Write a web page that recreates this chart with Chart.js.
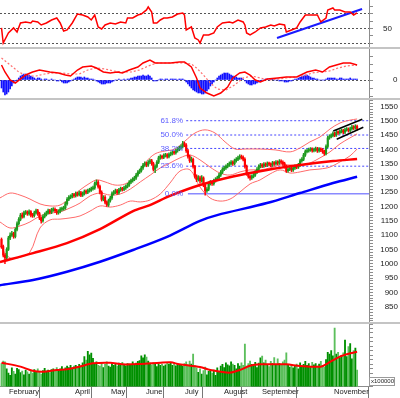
<!DOCTYPE html>
<html>
<head>
<meta charset="utf-8">
<script src="https://cdn.jsdelivr.net/npm/chart.js@4.4.1/dist/chart.umd.min.js"></script>
<style>
  html, body { margin: 0; padding: 0; background: #fff; }
  #wrap { position: relative; width: 400px; height: 398px; overflow: hidden; }
  #wrap canvas { position: absolute; left: 0; }
  .sep { position: absolute; left: 0; width: 400px; height: 2px; background: #c4c4c4; }
</style>
</head>
<body>
<div id="wrap">
  <canvas id="rsiChart" width="400" height="47" style="top:0"></canvas>
  <div class="sep" style="top:47px"></div>
  <canvas id="macdChart" width="400" height="49" style="top:49px"></canvas>
  <div class="sep" style="top:98px"></div>
  <canvas id="priceChart" width="400" height="222" style="top:100px"></canvas>
  <div class="sep" style="top:322px"></div>
  <canvas id="volChart" width="400" height="74" style="top:324px"></canvas>
</div>
<script>
// daily bars, index 0 = first session shown (late January)
const opens = [
  1085,1060,1030,1020,1050,1090,1100,1105,1095,1120,
  1140,1155,1170,1165,1178,1180,1175,1182,1170,1168,
  1178,1185,1175,1160,1150,1165,1172,1178,1185,1180,
  1188,1190,1185,1178,1183,1190,1192,1195,1210,1225,
  1232,1235,1240,1238,1245,1242,1248,1240,1245,1252,
  1250,1255,1258,1262,1265,1280,1285,1270,1250,1225,
  1232,1215,1205,1220,1230,1245,1250,1255,1248,1258,
  1262,1260,1265,1270,1275,1285,1290,1295,1300,1310,
  1320,1325,1335,1345,1350,1345,1355,1360,1350,1330,
  1340,1355,1370,1375,1372,1378,1380,1375,1382,1385,
  1390,1388,1395,1400,1405,1410,1420,1415,1395,1375,
  1360,1365,1340,1305,1295,1300,1290,1300,1275,1255,
  1260,1280,1285,1280,1290,1295,1300,1310,1320,1330,
  1335,1340,1345,1350,1355,1350,1360,1365,1370,1375,
  1372,1365,1340,1315,1305,1300,1305,1310,1320,1330,
  1340,1345,1342,1348,1345,1350,1348,1345,1352,1350,
  1355,1352,1358,1355,1350,1340,1325,1330,1335,1328,
  1335,1340,1338,1345,1360,1365,1380,1392,1395,1398,
  1400,1396,1398,1402,1395,1400,1398,1392,1385,1410,
  1440,1445,1448,1455,1450,1460,1458,1462,1465,1460,
  1468,1470,1466,1472,1478,1475,1480
];
const highs = [
  1090,1065,1035,1056,1096,1108,1113,1110,1125,1146,
  1161,1176,1178,1184,1186,1185,1188,1186,1176,1184,
  1191,1190,1180,1164,1171,1178,1184,1191,1190,1194,
  1196,1195,1190,1189,1196,1198,1201,1216,1231,1238,
  1241,1246,1246,1251,1250,1254,1253,1251,1258,1258,
  1261,1264,1268,1271,1286,1293,1291,1275,1255,1238,
  1238,1220,1226,1236,1251,1256,1261,1260,1264,1268,
  1267,1271,1276,1281,1291,1296,1301,1306,1316,1326,
  1331,1341,1351,1356,1355,1361,1366,1365,1355,1346,
  1361,1376,1381,1380,1384,1386,1385,1388,1391,1396,
  1395,1401,1406,1411,1416,1428,1425,1420,1400,1380,
  1373,1369,1344,1311,1308,1306,1308,1304,1280,1266,
  1286,1291,1290,1296,1301,1306,1316,1326,1336,1341,
  1346,1351,1356,1361,1360,1366,1371,1376,1381,1380,
  1377,1370,1345,1320,1311,1311,1316,1326,1336,1346,
  1351,1350,1354,1353,1356,1355,1353,1358,1357,1361,
  1360,1364,1363,1360,1355,1345,1336,1341,1340,1341,
  1346,1345,1351,1366,1371,1386,1398,1401,1404,1406,
  1405,1404,1408,1407,1406,1405,1403,1397,1416,1446,
  1451,1454,1461,1460,1466,1465,1468,1471,1470,1474,
  1476,1475,1478,1484,1483,1486,1485
];
const lows = [
  1054,1024,1000,1014,1046,1084,1095,1089,1090,1115,
  1135,1150,1159,1160,1172,1169,1170,1164,1162,1163,
  1173,1169,1154,1142,1145,1160,1167,1173,1174,1175,
  1183,1179,1172,1173,1178,1185,1187,1190,1205,1220,
  1227,1230,1232,1233,1236,1237,1234,1235,1240,1244,
  1245,1250,1253,1257,1260,1275,1264,1244,1219,1220,
  1209,1200,1200,1215,1225,1240,1245,1242,1243,1253,
  1254,1255,1260,1265,1270,1280,1285,1290,1295,1305,
  1315,1320,1330,1340,1339,1340,1350,1344,1324,1318,
  1335,1350,1365,1366,1367,1373,1369,1370,1377,1380,
  1382,1383,1390,1395,1400,1405,1409,1389,1369,1354,
  1355,1334,1299,1287,1289,1282,1285,1269,1240,1249,
  1255,1275,1274,1275,1285,1290,1295,1305,1315,1325,
  1330,1335,1340,1345,1344,1345,1355,1360,1365,1366,
  1359,1334,1309,1299,1292,1295,1300,1305,1315,1325,
  1335,1336,1337,1339,1340,1342,1339,1340,1344,1345,
  1346,1347,1349,1344,1334,1319,1320,1325,1322,1323,
  1330,1332,1333,1340,1355,1360,1375,1387,1390,1393,
  1390,1391,1393,1389,1390,1392,1386,1379,1380,1405,
  1435,1440,1443,1444,1445,1452,1453,1457,1454,1455,
  1463,1460,1461,1467,1469,1470,1467
];
const closes = [
  1060,1030,1020,1050,1090,1100,1105,1095,1120,1140,
  1155,1170,1165,1178,1180,1175,1182,1170,1168,1178,
  1185,1175,1160,1150,1165,1172,1178,1185,1180,1188,
  1190,1185,1178,1183,1190,1192,1195,1210,1225,1232,
  1235,1240,1238,1245,1242,1248,1240,1245,1252,1250,
  1255,1258,1262,1265,1280,1285,1270,1250,1225,1232,
  1215,1205,1220,1230,1245,1250,1255,1248,1258,1262,
  1260,1265,1270,1275,1285,1290,1295,1300,1310,1320,
  1325,1335,1345,1350,1345,1355,1360,1350,1330,1340,
  1355,1370,1375,1372,1378,1380,1375,1382,1385,1390,
  1388,1395,1400,1405,1410,1420,1415,1395,1375,1360,
  1365,1340,1305,1295,1300,1290,1300,1275,1255,1260,
  1280,1285,1280,1290,1295,1300,1310,1320,1330,1335,
  1340,1345,1350,1355,1350,1360,1365,1370,1375,1372,
  1365,1340,1315,1305,1300,1305,1310,1320,1330,1340,
  1345,1342,1348,1345,1350,1348,1345,1352,1350,1355,
  1352,1358,1355,1350,1340,1325,1330,1335,1328,1335,
  1340,1338,1345,1360,1365,1380,1392,1395,1398,1400,
  1396,1398,1402,1395,1400,1398,1392,1385,1410,1440,
  1445,1448,1455,1450,1460,1458,1462,1465,1460,1468,
  1470,1466,1472,1478,1475,1480,1473
];
// volume, x100000
const volumes = [
  7400,8000,7800,6200,5200,4700,6400,5600,5000,6300,
  6000,5300,5700,4800,5900,5500,5000,5800,5200,6000,
  5600,6200,5400,5000,5800,6300,5700,5900,5300,6000,
  6200,5800,6500,6000,6200,6700,6100,6400,6800,6500,
  7000,6400,6800,7000,6600,7200,6900,7600,9000,8200,
  10200,9400,9800,8600,7400,7800,7000,6800,7600,6500,
  7200,7800,6800,6600,7400,7000,7300,6800,7500,7100,
  7700,7200,6900,7400,7300,7000,7800,7200,7500,7900,
  8100,9200,8700,9400,8900,8000,7500,7100,7600,7300,
  6700,7400,7000,7200,6800,7100,7600,7300,7700,7000,
  7500,6900,7300,7000,7200,6800,7400,7800,7100,8000,
  7300,9600,6900,6400,5400,6200,5000,5800,6600,4800,
  5600,6100,5200,5900,4700,6400,5600,6800,7200,6500,
  7600,7100,6900,7800,7300,7000,6200,7400,6800,7600,
  7000,11900,6800,7400,8000,7200,6900,7700,6500,7500,
  8700,9100,7600,8200,7000,6700,7900,7400,8800,7100,
  8500,7400,7000,7800,8200,9900,7200,6600,7100,6400,
  6900,7300,6200,7600,6800,7200,7900,7000,7400,6600,
  7700,7100,7400,6800,7300,7900,7000,6600,8300,10000,
  9600,10400,9200,15600,9600,10000,8800,9200,9900,12800,
  9000,11300,12000,8500,10400,11000,5900
];
const macdHist = [
  -8,-12,-15,-14,-12,-9,-6,-3,-1,0,
  2,4,5,6,6,5,5,4,3,2,
  1,2,2,1,0,1,1,0,0,1,
  0,0,-1,-1,0,-2,-3,-3,-3,-2,
  -1,0,1,2,3,3,3,2,3,2,
  2,1,1,1,0,-1,-2,-3,-4,-4,
  -4,-3,-3,-3,-2,-1,0,0,1,0,
  0,1,0,1,1,2,2,3,3,4,
  4,4,5,4,4,5,4,2,-1,-1,
  -1,0,1,1,0,1,1,0,1,1,
  1,1,0,1,1,1,0,-2,-4,-6,
  -8,-10,-11,-12,-13,-13,-14,-14,-13,-11,
  -9,-6,-4,-2,0,2,4,5,6,7,
  7,7,6,5,4,3,3,2,2,2,
  1,-1,-3,-4,-5,-5,-4,-4,-3,-2,
  -1,0,0,1,1,0,1,1,0,0,
  0,-1,-1,-1,-2,-2,-2,-1,-1,0,
  1,1,2,3,4,4,5,5,4,3,
  2,2,1,1,0,0,0,0,1,2,
  2,2,2,2,1,1,2,2,1,1,
  1,1,2,1,1,1,1
];

// indicator lines: [bar index, value]
const rsiLine = [
  [0,51],[1,30.4],[4,44.1],[7,50.9],[9,45.4],[11,57.7],[14,59.1],[17,57.7],[18,60.4],[21,59.1],
  [23,55],[26,57.7],[29,61.8],[32,64.5],[34,57.7],[36,46.8],[38,48.2],[41,57.7],[43,65.9],[44,70],
  [47,68.6],[50,65.9],[52,61.8],[54,68.6],[56,52.3],[58,49.5],[60,55],[63,57.7],[66,56.4],[69,59.1],
  [72,57.7],[73,64.5],[76,64.5],[79,68.6],[81,70],[84,75.5],[85,79.6],[87,72.7],[88,57.7],[90,57.7],
  [92,61.8],[94,64.5],[96,64.5],[99,65.9],[102,70],[105,71.4],[106,68.6],[107,48.2],[110,52.3],[112,37.2],
  [114,34.5],[115,30.4],[117,41.3],[120,41.3],[123,44.1],[125,52.3],[128,57.7],[132,59.1],[134,57.7],[137,61.8],
  [140,59.1],[141,55],[142,44.1],[144,41.3],[147,45.4],[150,50.9],[153,52.3],[156,55],[158,53.6],[161,56.4],
  [164,55],[165,45.4],[168,48.2],[171,50.9],[173,59.1],[176,68.6],[180,68.6],[183,68.6],[185,59.1],[188,64.5],
  [189,75.5],[192,78.2],[193,75.5],[196,75.5],[199,72.7],[202,72.7],[204,68.6],[206,71.4]
];
const rsiTrend = [[159.6,37.2],[208.9,76.8]];
const macdLine = [
  [0,15],[2,8],[5,0],[8,-3],[14,5],[18,8],[22,10],[28,8],[33,7],[37,5],[40,4],[44,10],[47,13],
  [52,14],[55,12],[59,8],[63,7],[67,8],[70,7],[74,10],[79,13],[82,17],[86,20],[89,17],[94,17],
  [98,17],[103,18],[106,18],[110,13],[113,2],[115,-8],[119,-13],[123,-16],[127,-13],[131,-7],
  [134,2],[138,7],[141,8],[144,5],[147,0],[150,-2],[154,1],[160,2],[165,3],[171,3],[177,8],
  [182,10],[186,8],[190,13],[194,15],[198,17],[202,17],[206,15]
];
const macdSignal = [
  [0,22],[5,15],[10,8],[15,4],[20,4],[25,6],[30,7],[35,7],[40,6],[45,6],[50,10],[55,12],[60,11],
  [65,9],[70,8],[75,8],[80,10],[85,14],[90,17],[95,17],[100,17],[105,17],[110,16],[113,12],[117,5],
  [121,-3],[125,-9],[130,-10],[135,-5],[140,2],[145,4],[150,2],[155,0],[160,1],[165,2],[170,3],
  [175,4],[180,7],[185,8],[190,9],[195,12],[200,14],[206,15]
];
const maRed = [
  [-0.9,1006],[18.3,1037],[37.9,1072],[57.1,1121],[76.2,1184],[86,1205],[97.6,1237],
  [115,1275],[134.1,1305],[153.8,1328],[172.9,1345],[192.1,1359],[206,1366]
];
const maBlue = [
  [-0.9,925],[18.3,943],[37.9,972],[57.1,1007],[76.2,1048],[95.9,1094],[115,1150],
  [124.9,1170],[153.8,1212],[172.9,1247],[192.1,1282],[206,1304]
];
const bbUpper = [
  [-0.9,1230],[4.9,1247],[10.7,1240],[16.5,1226],[22.3,1209],[28.1,1202],[33.9,1205],[39.7,1230],
  [45.5,1258],[51.3,1282],[55.3,1293],[60,1286],[65.8,1275],[71.6,1279],[77.3,1303],[83.1,1352],
  [88.9,1384],[94.7,1394],[100.5,1401],[106.3,1429],[112.1,1457],[117.9,1468],[123.7,1457],
  [129.5,1426],[135.3,1401],[141.1,1401],[149.8,1401],[158.5,1398],[167.2,1391],[173,1405],
  [178.7,1426],[184.5,1443],[190.3,1471],[196.1,1492],[201.9,1502],[206,1506]
];
const bbMiddle = [
  [-0.9,1146],[4.9,1125],[10.7,1132],[16.5,1146],[22.3,1167],[28.1,1177],[33.9,1181],[39.7,1195],
  [45.5,1212],[51.3,1237],[57.1,1247],[62.9,1240],[68.8,1244],[74.6,1261],[80.4,1286],[86.2,1310],
  [92,1335],[97.6,1352],[103.4,1370],[109.2,1380],[115,1363],[120.8,1338],[126.6,1317],[132.4,1310],
  [138.2,1321],[144,1328],[149.8,1328],[155.6,1335],[161.4,1345],[167.2,1345],[173,1342],
  [178.7,1352],[184.5,1370],[190.3,1391],[196.1,1419],[201.9,1440],[206,1454]
];
const bbLower = [
  [-0.9,1062],[4.9,1020],[10.7,1023],[16.5,1041],[22.3,1125],[28.1,1153],[33.9,1156],[39.7,1160],
  [45.5,1167],[51.3,1184],[57.1,1202],[62.9,1198],[68.8,1205],[74.6,1219],[80.4,1216],[86.2,1223],
  [92,1244],[97.6,1282],[103.4,1324],[109.2,1328],[115,1268],[120.8,1230],[126.6,1219],[132.4,1226],
  [138.2,1251],[144,1279],[149.8,1293],[155.6,1314],[161.4,1328],[167.2,1317],[173,1321],
  [178.7,1328],[184.5,1331],[190.3,1338],[196.1,1356],[201.9,1377],[206,1401]
];
const channelTop = [[192.2,1464],[209,1505]];
const channelBottom = [[194.2,1435],[209.6,1477]];
const volMA = [
  [0,7600],[11,6700],[18,5760],[24,5530],[32,5920],[38,6080],[45,6680],[53,7460],[63,7600],
  [70,7230],[80,7300],[92,7600],[98,7700],[103,7230],[115,6600],[121,5920],[132,5300],[138,5920],
  [144,6900],[150,7230],[157,7230],[165,7230],[173,6850],[185,6680],[189,7460],[196,9000],
  [202,9770],[206,10140]
];
const fibNames = ['0.0%', '23.6%', '38.2%', '50.0%', '61.8%'];
const fibPrices = [1245, 1341, 1403, 1450, 1500];
const fibStart = 107;      // bar index where the retracement lines begin
const fibLabelAt = 105.2;  // right edge of the level labels
const monthNames = ['February', 'April', 'May', 'June', 'July', 'August', 'September', 'November'];
const monthIdx = [3.2, 41.4, 62.3, 82.6, 105.2, 127.8, 149.8, 191.5];

const FONT = '"Liberation Sans", Arial, sans-serif';
const TEXT = '#222';
const AXIS_COLOR = '#8c8c8c';
const UP = '#1f9a1f';
const DOWN = '#ff0000';
const X_MIN = -0.87, X_MAX = 212.9;

const pts = arr => arr.map(p => ({ x: p[0], y: p[1] }));
const upDay = closes.map((c, i) => c >= opens[i]);

function hiddenX() {
  return { type: 'linear', min: X_MIN, max: X_MAX, offset: false, display: false };
}

// align: 'far' = right-aligned at the canvas edge, 'near' = left-aligned after pad
function rightAxis(min, max, step, labelFn, refFn, align, pad) {
  return {
    type: 'linear', position: 'right', min: min, max: max,
    afterFit: s => { s.width = 29; s.paddingTop = 0; s.paddingBottom = 0; },
    border: { display: true, color: AXIS_COLOR, dash: [2, 2] },
    grid: {
      drawOnChartArea: !!refFn,
      color: refFn || AXIS_COLOR,
      tickColor: AXIS_COLOR,
      tickLength: 4
    },
    ticks: {
      stepSize: step, autoSkip: false, includeBounds: false, crossAlign: align || 'far',
      padding: pad == null ? 4 : pad, color: TEXT, font: { family: FONT, size: 8 }, callback: labelFn
    }
  };
}

function baseOptions(x, y) {
  return {
    responsive: false,
    animation: false,
    events: [],
    layout: { padding: { left: 0, right: 2, top: 0, bottom: 0 } },
    plugins: { legend: { display: false }, tooltip: { enabled: false } },
    scales: { x: x, y: y }
  };
}

function lineSet(data, color, width, extra) {
  return Object.assign({
    type: 'line', data: pts(data), borderColor: color, borderWidth: width,
    pointRadius: 0, fill: false, tension: 0
  }, extra || {});
}

// RSI
new Chart(document.getElementById('rsiChart'), {
  type: 'line',
  data: {
    datasets: [
      lineSet(rsiLine, '#ff0000', 1.5),
      lineSet(rsiTrend, '#1a1aff', 2)
    ]
  },
  options: baseOptions(hiddenX(),
    rightAxis(24.9, 89.1, 10, v => (v === 50 ? '50' : ''),
      c => ([30, 50, 70].includes(c.tick.value) ? '#555' : 'rgba(0,0,0,0)'), 'near', 10))
});

// MACD
new Chart(document.getElementById('macdChart'), {
  type: 'bar',
  data: {
    datasets: [
      lineSet(macdLine, '#ff0000', 1.5, { order: 0 }),
      lineSet(macdSignal, '#ff7070', 1.2, { order: 1, borderDash: [2, 2] }),
      {
        type: 'bar', order: 2,
        data: macdHist.map((v, i) => ({ x: i, y: v })),
        backgroundColor: '#1010ff', barThickness: 1, grouped: false
      }
    ]
  },
  options: baseOptions(hiddenX(),
    rightAxis(-18, 31, 8, v => (v === 0 ? '0' : ''),
      c => (c.tick.value === 0 ? '#555' : 'rgba(0,0,0,0)'), 'near', 20))
});

// price
const fibLabelPlugin = {
  id: 'fibLabels',
  afterDatasetsDraw(chart) {
    const { ctx, scales } = chart;
    const x = scales.x.getPixelForValue(fibLabelAt);
    ctx.save();
    ctx.font = '8px ' + FONT;
    ctx.fillStyle = '#5c5cff';
    ctx.textAlign = 'right';
    ctx.textBaseline = 'middle';
    fibNames.forEach((name, i) => {
      ctx.fillText(name, x, scales.y.getPixelForValue(fibPrices[i]));
    });
    ctx.restore();
  }
};

const fibSets = fibPrices.map((p, i) => lineSet(
  [[i === 0 ? fibStart + 1 : fibStart, p], [X_MAX, p]],
  i === 0 ? '#8a8aff' : '#4646ff',
  i === 0 ? 1.5 : 1,
  { order: 5, borderDash: i === 0 ? [] : [2, 2] }
));

new Chart(document.getElementById('priceChart'), {
  type: 'bar',
  plugins: [fibLabelPlugin],
  data: {
    datasets: [
      lineSet(bbUpper, '#ff6a6a', 1, { order: 3, tension: 0.35 }),
      lineSet(bbMiddle, '#ff6a6a', 1, { order: 3, tension: 0.35 }),
      lineSet(bbLower, '#ff6a6a', 1, { order: 3, tension: 0.35 }),
      lineSet(maBlue, '#0000ff', 2.5, { order: 0, tension: 0.3 }),
      lineSet(maRed, '#ff0000', 2.5, { order: 0, tension: 0.3 }),
      lineSet(channelTop, '#000', 1.5, { order: 0 }),
      lineSet(channelBottom, '#000', 1.5, { order: 0 }),
      {
        type: 'bar', order: 1, grouped: false, barThickness: 0.8,
        data: closes.map((c, i) => ({ x: i, y: [lows[i], highs[i]] })),
        backgroundColor: upDay.map(u => (u ? UP : DOWN))
      },
      {
        type: 'bar', order: 1, grouped: false, barThickness: 1.5, minBarLength: 1,
        data: closes.map((c, i) => ({ x: i, y: [opens[i], c] })),
        backgroundColor: upDay.map(u => (u ? UP : DOWN))
      }
    ].concat(fibSets)
  },
  options: baseOptions(hiddenX(),
    rightAxis(796.2, 1572.4, 10, v => (v % 50 === 0 && v >= 850 && v <= 1550 ? String(v) : '')))
});

// volume
const unitPlugin = {
  id: 'volUnit',
  afterDraw(chart) {
    const { ctx, chartArea } = chart;
    ctx.save();
    ctx.fillStyle = '#fff';
    ctx.strokeStyle = '#9a9a9a';
    ctx.lineWidth = 1;
    ctx.fillRect(chartArea.right + 0.5, 53.5, 25, 8);
    ctx.strokeRect(chartArea.right + 0.5, 53.5, 25, 8);
    ctx.fillStyle = TEXT;
    ctx.font = '6px ' + FONT;
    ctx.textBaseline = 'middle';
    ctx.fillText('x100000', chartArea.right + 2, 57.8);
    ctx.restore();
  }
};

const volX = {
  type: 'linear', min: X_MIN, max: X_MAX, offset: false, position: 'bottom',
  afterBuildTicks: s => { s.ticks = monthIdx.map(v => ({ value: v })); },
  afterFit: s => { s.height = 11.5; s.paddingLeft = 0; s.paddingRight = 0; },
  border: { display: true, color: AXIS_COLOR },
  grid: { drawOnChartArea: false, tickLength: 12, color: '#777', tickColor: '#777' },
  ticks: {
    autoSkip: false, maxRotation: 0, align: 'start', labelOffset: 2, padding: -11,
    color: TEXT, font: { family: FONT, size: 7.5 }, callback: (v, i) => monthNames[i]
  }
};

new Chart(document.getElementById('volChart'), {
  type: 'bar',
  plugins: [unitPlugin],
  data: {
    datasets: [
      lineSet(volMA, '#ff0000', 2, { order: 0, tension: 0.3 }),
      {
        type: 'bar', order: 1, grouped: false, barThickness: 1.2,
        data: volumes.map((v, i) => ({ x: i, y: v })),
        backgroundColor: upDay.map(u => (u ? '#009000' : '#5cbf5c'))
      }
    ]
  },
  options: baseOptions(volX,
    rightAxis(2120, 16520, 1000, v => (v === 5000 || v === 10000 ? String(v) : '')))
});
</script>
</body>
</html>
